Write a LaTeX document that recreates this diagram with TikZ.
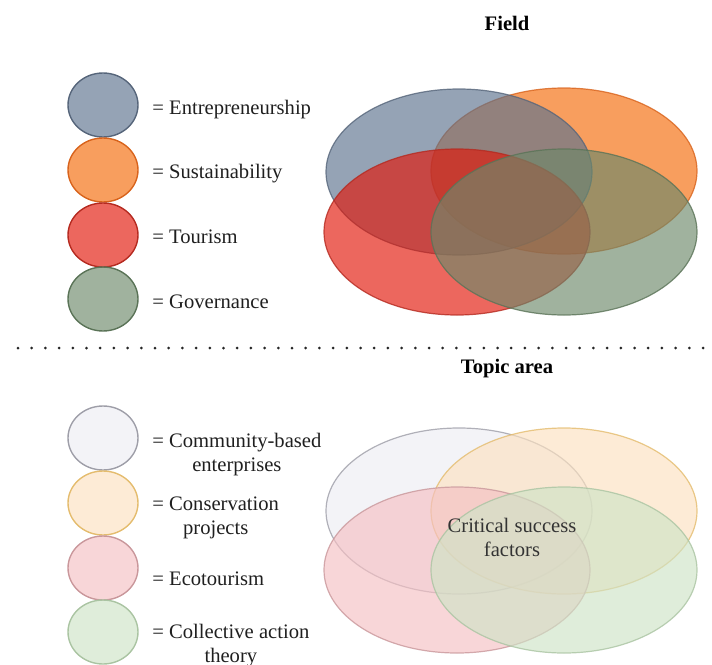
\documentclass[tikz,border=0pt]{standalone}
\usepackage{fontspec}
\setmainfont{Liberation Serif}
\usetikzlibrary{shapes.geometric, positioning}

% field colours
\definecolor{entrec}{HTML}{5C728E}
\definecolor{entrel}{HTML}{56657A}
\definecolor{sustc}{HTML}{F56A08}
\definecolor{sustl}{HTML}{D8631C}
\definecolor{tourc}{HTML}{E21608}
\definecolor{tourl}{HTML}{B52A20}
\definecolor{govc}{HTML}{6D896A}
\definecolor{govl}{HTML}{5A7357}
% topic colours
\definecolor{commc}{HTML}{EDEDF3}
\definecolor{comml}{HTML}{9E9EA8}
\definecolor{consc}{HTML}{FCE1C0}
\definecolor{consl}{HTML}{E4BC6E}
\definecolor{ecoc}{HTML}{F5C0C3}
\definecolor{ecol}{HTML}{C9979B}
\definecolor{collc}{HTML}{CEE3C6}
\definecolor{colll}{HTML}{AAC4A2}

\tikzset{
  key/.style={ellipse, minimum width=35pt, minimum height=32pt, inner sep=0pt, line width=0.7pt, fill opacity=0.65},
  venn/.style={ellipse, minimum width=133pt, minimum height=83pt, inner sep=0pt, line width=0.6pt, fill opacity=0.65, draw opacity=0.8},
  keytext/.style={anchor=base west, align=center, inner sep=0pt, text=black!88},
  heading/.style={anchor=base, inner sep=0pt, font=\fontsize{10.3}{11.8}\selectfont\bfseries}
}

\begin{document}
\begin{tikzpicture}[x=0.5pt, y=-0.5pt, font=\fontsize{10.3}{11.8}\selectfont]
  \useasboundingbox (0,0) rectangle (712,664);

  % --- field ---
  \node[heading] (field) at (507,30) {Field};
  \node[key, draw=entrel, fill=entrec] (ent) at (103,105) {};
  \node[key, draw=sustl, fill=sustc] (sus) at (103,170) {};
  \node[key, draw=tourl, fill=tourc] (tou) at (103,235) {};
  \node[key, draw=govl, fill=govc] (gov) at (103,299) {};
  \node[keytext] (entt) at (152,114) {= Entrepreneurship};
  \node[keytext] (sust) at (152,178) {= Sustainability};
  \node[keytext] (tout) at (152,243) {= Tourism};
  \node[keytext] (govt) at (152,308) {= Governance};

  % orange first, so the blue sits over it
  \node[venn, draw=sustl, fill=sustc] (vsus) at (564,171) {};
  \node[venn, draw=entrel, fill=entrec] (vent) at (459,172) {};
  \node[venn, draw=tourl, fill=tourc] (vtou) at (457,232) {};
  \node[venn, draw=govl, fill=govc] (vgov) at (564,232) {};

  % dotted divider
  \draw[line width=1.5pt, line cap=round, dash pattern=on 0pt off 6.85pt, black!85] (18,348) -- (706,348);

  % --- topic area ---
  \node[heading] (topic) at (507,373) {Topic area};
  \node[key, draw=comml, fill=commc] (comm) at (103,438) {};
  \node[key, draw=consl, fill=consc] (cons) at (103,503) {};
  \node[key, draw=ecol, fill=ecoc] (eco) at (103,568) {};
  \node[key, draw=colll, fill=collc] (coll) at (103,632) {};
  % base of a two-line label is its last line
  \node[keytext] (commt) at (152,471) {= Community-based\\ enterprises};
  \node[keytext] (const) at (152,534) {= Conservation\\ projects};
  \node[keytext] (ecot) at (152,585) {= Ecotourism};
  \node[keytext] (collt) at (152,662) {= Collective action\\ theory};

  \node[venn, draw=comml, fill=commc] (vcomm) at (459,511) {};
  \node[venn, draw=consl, fill=consc] (vcons) at (564,511) {};
  \node[venn, draw=ecol, fill=ecoc] (veco) at (457,570) {};
  \node[venn, draw=colll, fill=collc] (vcoll) at (564,570) {};
  \node[anchor=base, align=center, inner sep=0pt, text=black!80] (csf) at (512,556) {Critical success\\ factors};
\end{tikzpicture}
\end{document}
